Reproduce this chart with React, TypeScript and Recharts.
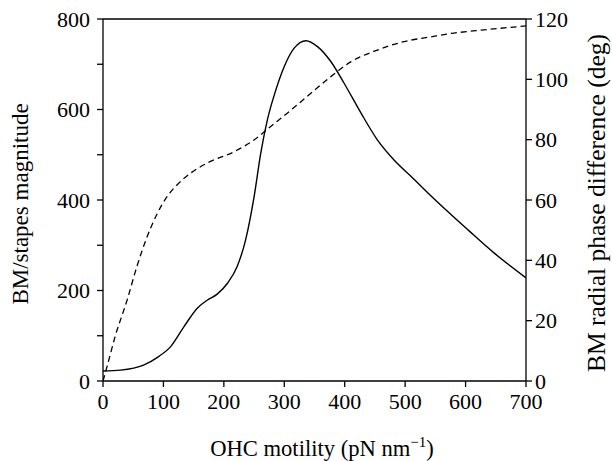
import React from 'react';
import { LineChart, Line, XAxis, YAxis, ReferenceLine, Label } from 'recharts';

const magX = [0, 29, 67, 92, 112, 134, 156, 173, 189, 206, 222, 236, 250, 261, 272, 286, 300, 316, 336, 355, 377, 399, 427, 454, 482, 510, 546, 604, 648, 700];
const magY = [22, 24, 35, 54, 76, 120, 161, 179, 192, 216, 253, 312, 407, 503, 577, 643, 695, 735, 752, 739, 706, 658, 592, 533, 488, 452, 405, 334, 282, 228];

const phaseX = [0, 7, 20, 40, 56, 73, 90, 106, 125, 145, 172, 217, 250, 277, 311, 344, 377, 410, 454, 498, 543, 576, 631, 700];
const phaseY = [0, 5, 14.7, 26.9, 37.9, 47.8, 55.6, 61.1, 65.5, 68.9, 72.2, 76, 79.9, 84.3, 89.8, 95.4, 100.9, 105.8, 109.7, 112.5, 114.1, 115.2, 116.4, 117.7];

const xTicks = [0, 100, 200, 300, 400, 500, 600, 700];
const leftTicks = [0, 100, 200, 300, 400, 500, 600, 700, 800];
const rightTicks = [0, 20, 40, 60, 80, 100, 120];

const magData = magX.map((x, i) => ({ x, y: magY[i] }));
const phaseData = phaseX.map((x, i) => ({ x, p: phaseY[i] }));

const FONT = '"Liberation Serif", "Times New Roman", serif';
const tickStyle = { fill: '#000', fontSize: 22, fontFamily: FONT };

export default function App() {
  return (
    <div style={{ position: 'absolute', left: 0, top: 0, background: '#fff' }}>
      <LineChart width={612} height={461} margin={{ top: 19, right: 0, bottom: 0, left: 0 }}>
        <XAxis
          dataKey="x"
          type="number"
          domain={[0, 700]}
          ticks={xTicks}
          height={80}
          tickSize={6}
          tickMargin={6}
          axisLine={{ stroke: '#000', strokeWidth: 1.3 }}
          tickLine={{ stroke: '#000', strokeWidth: 1.3 }}
          tick={tickStyle}
          allowDataOverflow
        >
          <Label
            content={() => (
              <text x={322} y={456} textAnchor="middle" fontFamily={FONT} fontSize={22.6} fill="#000">
                OHC motility (pN nm
                <tspan dy={-9} fontSize={15}>−1</tspan>
                <tspan dy={9}>)</tspan>
              </text>
            )}
          />
        </XAxis>
        <YAxis
          yAxisId="left"
          domain={[0, 800]}
          ticks={leftTicks}
          width={103}
          tickSize={6}
          tickMargin={7}
          tickFormatter={(v) => (v % 200 === 0 ? String(v) : '')}
          axisLine={{ stroke: '#000', strokeWidth: 1.3 }}
          tickLine={{ stroke: '#000', strokeWidth: 1.3 }}
          tick={tickStyle}
          allowDataOverflow
        >
          <Label
            content={() => (
              <text x={28} y={204} textAnchor="middle" transform="rotate(-90 28 204)" fontFamily={FONT} fontSize={23} fill="#000">
                BM/stapes magnitude
              </text>
            )}
          />
        </YAxis>
        <YAxis
          yAxisId="right"
          orientation="right"
          domain={[0, 120]}
          ticks={rightTicks}
          width={86}
          tickSize={6}
          tickMargin={3}
          axisLine={{ stroke: '#000', strokeWidth: 1.3 }}
          tickLine={{ stroke: '#000', strokeWidth: 1.3 }}
          tick={tickStyle}
          allowDataOverflow
        >
          <Label
            content={() => (
              <text x={605} y={203} textAnchor="middle" transform="rotate(-90 605 203)" fontFamily={FONT} fontSize={25.5} fill="#000">
                BM radial phase difference (deg)
              </text>
            )}
          />
        </YAxis>
        <ReferenceLine yAxisId="left" y={800} stroke="#000" strokeWidth={1.3} />
        <Line
          yAxisId="left"
          data={magData}
          dataKey="y"
          type="monotone"
          stroke="#000"
          strokeWidth={1.4}
          dot={false}
          isAnimationActive={false}
        />
        <Line
          yAxisId="right"
          data={phaseData}
          dataKey="p"
          type="monotone"
          stroke="#000"
          strokeWidth={1.3}
          strokeDasharray="6 4"
          dot={false}
          isAnimationActive={false}
        />
      </LineChart>
    </div>
  );
}
